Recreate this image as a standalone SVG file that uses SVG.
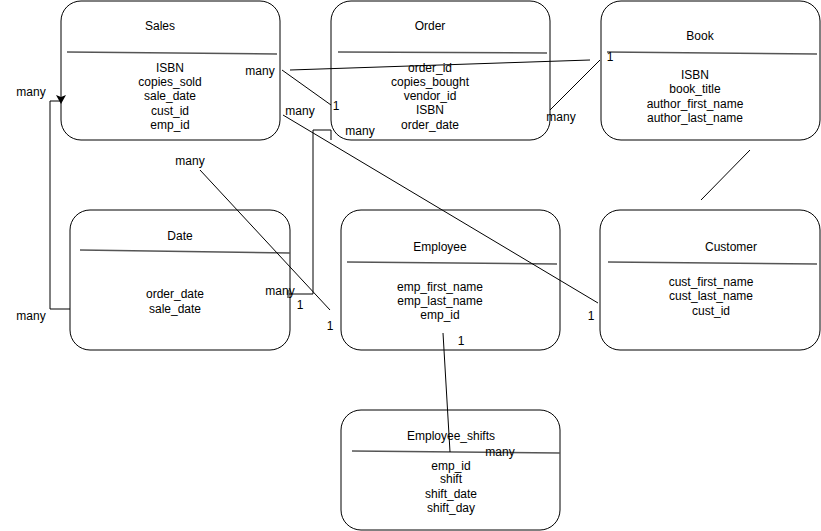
<svg xmlns="http://www.w3.org/2000/svg" width="821" height="531" viewBox="0 0 821 531">
  <style>
    .box { fill: #ffffff; stroke: #000000; stroke-width: 1; }
    .sep { stroke: #555555; stroke-width: 1.6; fill: none; }
    .edge { stroke: #000000; stroke-width: 1; fill: none; }
    text { font-family: "Liberation Sans", Arial, Helvetica, sans-serif; font-size: 12px; fill: #000000; }
    .c { text-anchor: middle; }
  </style>
  <defs>
    <marker id="arrowDown" markerWidth="10" markerHeight="10" refX="5" refY="8" orient="auto" markerUnits="userSpaceOnUse">
      <path d="M0,0 L5,2 L10,0 L5,9 Z" fill="#000000"/>
    </marker>
  </defs>

  <rect width="821" height="531" fill="#ffffff"/>

  <!-- Entities -->
  <g id="sales">
    <rect class="box" x="61" y="1" width="219" height="139" rx="20" ry="20"/>
    <line class="sep" x1="67" y1="52" x2="277" y2="54"/>
    <text class="c" x="160" y="30">Sales</text>
    <text class="c" x="170" y="72">ISBN</text>
    <text class="c" x="170" y="86">copies_sold</text>
    <text class="c" x="170" y="100">sale_date</text>
    <text class="c" x="170" y="115">cust_id</text>
    <text class="c" x="170" y="129">emp_id</text>
  </g>

  <g id="order">
    <rect class="box" x="331" y="1" width="219" height="139" rx="20" ry="20"/>
    <line class="sep" x1="338" y1="52" x2="547" y2="53"/>
    <text class="c" x="430" y="30">Order</text>
    <text class="c" x="430" y="72">order_id</text>
    <text class="c" x="430" y="86">copies_bought</text>
    <text class="c" x="430" y="100">vendor_id</text>
    <text class="c" x="430" y="114">ISBN</text>
    <text class="c" x="430" y="129">order_date</text>
  </g>

  <g id="book">
    <rect class="box" x="601" y="1" width="219" height="139" rx="20" ry="20"/>
    <line class="sep" x1="607" y1="52" x2="817" y2="54"/>
    <text class="c" x="700" y="40">Book</text>
    <text class="c" x="695" y="79">ISBN</text>
    <text class="c" x="695" y="93">book_title</text>
    <text class="c" x="695" y="108">author_first_name</text>
    <text class="c" x="695" y="122">author_last_name</text>
  </g>

  <g id="date">
    <rect class="box" x="70" y="210" width="220" height="140" rx="20" ry="20"/>
    <line class="sep" x1="80" y1="250" x2="290" y2="253"/>
    <text class="c" x="180" y="240">Date</text>
    <text class="c" x="175" y="298">order_date</text>
    <text class="c" x="175" y="313">sale_date</text>
  </g>

  <g id="employee">
    <rect class="box" x="341" y="210" width="219" height="140" rx="20" ry="20"/>
    <line class="sep" x1="347" y1="262" x2="557" y2="264"/>
    <text class="c" x="440" y="251">Employee</text>
    <text class="c" x="440" y="291">emp_first_name</text>
    <text class="c" x="440" y="305">emp_last_name</text>
    <text class="c" x="440" y="319">emp_id</text>
  </g>

  <g id="customer">
    <rect class="box" x="600" y="210" width="220" height="140" rx="20" ry="20"/>
    <line class="sep" x1="608" y1="262" x2="817" y2="264"/>
    <text class="c" x="731" y="251">Customer</text>
    <text class="c" x="711" y="286">cust_first_name</text>
    <text class="c" x="711" y="300">cust_last_name</text>
    <text class="c" x="711" y="315">cust_id</text>
  </g>

  <g id="employee_shifts">
    <rect class="box" x="341" y="410" width="219" height="120" rx="20" ry="20"/>
    <line class="sep" x1="352" y1="451" x2="560" y2="453"/>
    <text class="c" x="451" y="440">Employee_shifts</text>
    <text class="c" x="451" y="470">emp_id</text>
    <text class="c" x="451" y="483">shift</text>
    <text class="c" x="451" y="498">shift_date</text>
    <text class="c" x="451" y="512">shift_day</text>
  </g>

  <!-- Relationships -->
  <g id="connectors">
    <line class="edge" x1="290" y1="70" x2="590" y2="60"/>
    <line class="edge" x1="282" y1="70" x2="331" y2="105"/>
    <line class="edge" x1="550" y1="110" x2="600" y2="60"/>
    <line class="edge" x1="283" y1="115" x2="598" y2="303"/>
    <line class="edge" x1="750" y1="150" x2="701" y2="200"/>
    <line class="edge" x1="200" y1="170" x2="330" y2="310"/>
    <path class="edge" d="M289,294 H313 V130 H331 V140"/>
    <line class="edge" x1="288" y1="290" x2="288" y2="298"/>
    <path class="edge" d="M70,309 H50 V101 H61"/>
    <path d="M56,95 L61,97 L66,95 L61,104 Z" fill="#000000"/>
    <line class="edge" x1="443" y1="333" x2="450" y2="452"/>
  </g>

  <!-- Cardinality labels -->
  <g id="labels">
    <text class="c" x="31" y="96">many</text>
    <text class="c" x="31" y="320">many</text>
    <text class="c" x="260" y="75">many</text>
    <text class="c" x="336" y="110">1</text>
    <text class="c" x="300" y="115">many</text>
    <text class="c" x="360" y="135">many</text>
    <text class="c" x="561" y="121">many</text>
    <text class="c" x="610" y="61">1</text>
    <text class="c" x="190" y="165">many</text>
    <text class="c" x="280" y="295">many</text>
    <text class="c" x="300" y="309">1</text>
    <text class="c" x="330" y="330">1</text>
    <text class="c" x="591" y="320">1</text>
    <text class="c" x="461" y="345">1</text>
    <text class="c" x="500" y="456">many</text>
  </g>
</svg>
